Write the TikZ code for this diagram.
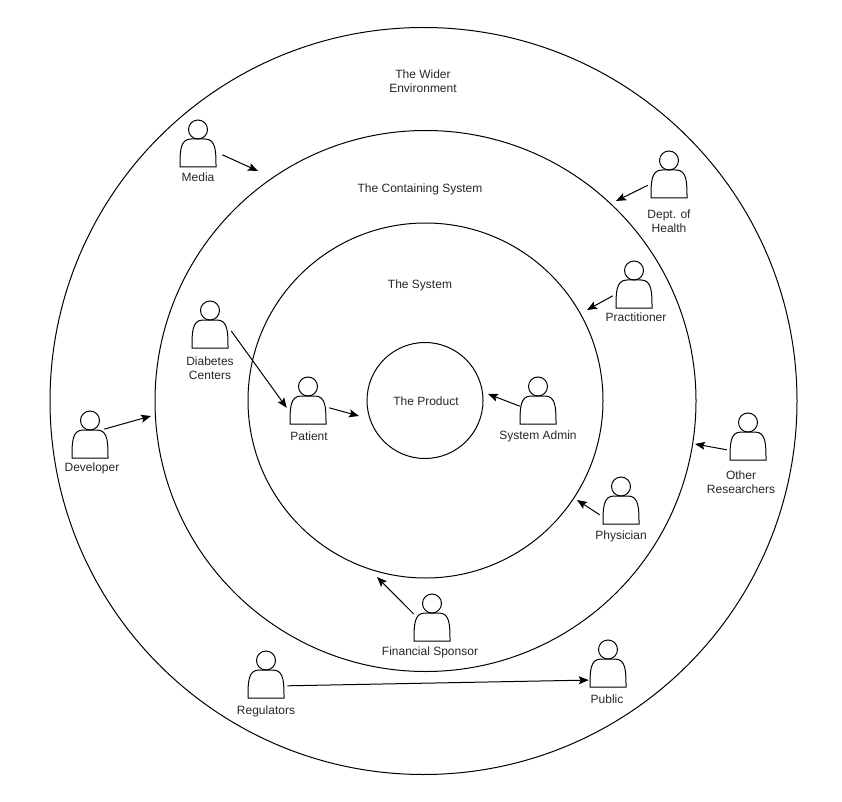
\documentclass[tikz,border=0pt]{standalone}
\usepackage{fontspec}
\setmainfont{Liberation Sans}
\usetikzlibrary{arrows.meta}
\begin{document}
\begin{tikzpicture}[x=0.75pt, y=-0.75pt,
  ring/.style={circle, draw=black, line width=0.75pt, inner sep=0pt},
  actor/.style={rectangle, minimum width=31.5pt, minimum height=40.5pt, inner sep=0pt, path picture={
    \begin{scope}[shift={(path picture bounding box.center)}, line width=0.75pt]
      \draw (-18,23.5) .. controls (-18,8) and (-18,-4.5) .. (-7,-4.5) -- (7,-4.5) .. controls (18,-4.5) and (18,8) .. (18,23.5) -- cycle;
      \draw (0,-14) circle (9.5);
    \end{scope}}},
  label/.style={font=\fontsize{9pt}{10.5pt}\selectfont, text=black!85, align=center, inner sep=0pt},
  arrow/.style={line width=0.75pt, ->, >={Stealth[length=7.5pt, width=6pt, inset=1.5pt]}}]

  \useasboundingbox (0,0) rectangle (842,802);

  % Rings
  \node (wider) [ring, minimum size=560.25pt] at (423.5,401) {};
  \node (containing) [ring, minimum size=405.75pt] at (425.5,401) {};
  \node (system) [ring, minimum size=266.25pt] at (425.5,400.5) {};
  \node (product) [ring, minimum size=87pt] at (425,400.5) {};

  \node (productlabel) [label] at (426,401) {The Product};
  \node (widerlabel) [label] at (423,81.5) {The Wider\\Environment};
  \node (containinglabel) [label] at (420,189) {The Containing System};
  \node (systemlabel) [label] at (420,285) {The System};

  % Actors
  \node (media) [actor] at (198,143.5) {};
  \node (dept) [actor] at (669,174.5) {};
  \node (practitioner) [actor] at (634,284.5) {};
  \node (diabetes) [actor] at (210,324.5) {};
  \node (patient) [actor] at (308,400.5) {};
  \node (sysadmin) [actor] at (538,400.5) {};
  \node (developer) [actor] at (90,434.5) {};
  \node (other) [actor] at (748,436.5) {};
  \node (physician) [actor] at (621,500.5) {};
  \node (financial) [actor] at (432,617.5) {};
  \node (regulators) [actor] at (266,674.5) {};
  \node (public) [actor] at (608,663.5) {};

  % Labels
  \node (medialabel) [label] at (198,177.5) {Media};
  \node (deptlabel) [label] at (669,221) {Dept. of\\Health};
  \node (practitionerlabel) [label] at (636,317.5) {Practitioner};
  \node (diabeteslabel) [label] at (210,368) {Diabetes\\Centers};
  \node (patientlabel) [label] at (309,436.5) {Patient};
  \node (sysadminlabel) [label] at (538,436.5) {System Admin};
  \node (developerlabel) [label] at (92,468.5) {Developer};
  \node (otherlabel) [label] at (741,482) {Other\\Researchers};
  \node (physicianlabel) [label] at (621,536) {Physician};
  \node (financiallabel) [label] at (430,652) {Financial Sponsor};
  \node (regulatorslabel) [label] at (266,711) {Regulators};
  \node (publiclabel) [label] at (607,699.5) {Public};

  % Arrow ends
  \coordinate (mediaend) at (258,171);
  \coordinate (deptend) at (616,201);
  \coordinate (practitionerend) at (587,310);
  \coordinate (patientend) at (359,416);
  \coordinate (sysadminend) at (488,394);
  \coordinate (developerend) at (151,416);
  \coordinate (otherend) at (695,444);
  \coordinate (physicianend) at (577,500);
  \coordinate (financialend) at (377,577);

  % Arrows
  \draw [arrow, shorten <=2.5pt] (media.-25.6) -- (mediaend);
  \draw [arrow] (dept.207) -- (deptend);
  \draw [arrow] (practitioner.208) -- (practitionerend);
  \draw [arrow] (diabetes.-17) -- (patient.199);
  \draw [arrow] (patient.-19) -- (patientend);
  \draw [arrow, shorten <=-2.4pt] (sysadmin.192) -- (sysadminend);
  \draw [arrow, shorten <=-5.4pt] (developer.19.4) -- (developerend);
  \draw [arrow] (other.212) -- (otherend);
  \draw [arrow] (physician.214) -- (physicianend);
  \draw [arrow, shorten <=-3.2pt] (financial.163) -- (financialend);
  \draw [arrow, shorten >=-1.5pt] (regulators.-28.6) -- (public.218);
\end{tikzpicture}
\end{document}
